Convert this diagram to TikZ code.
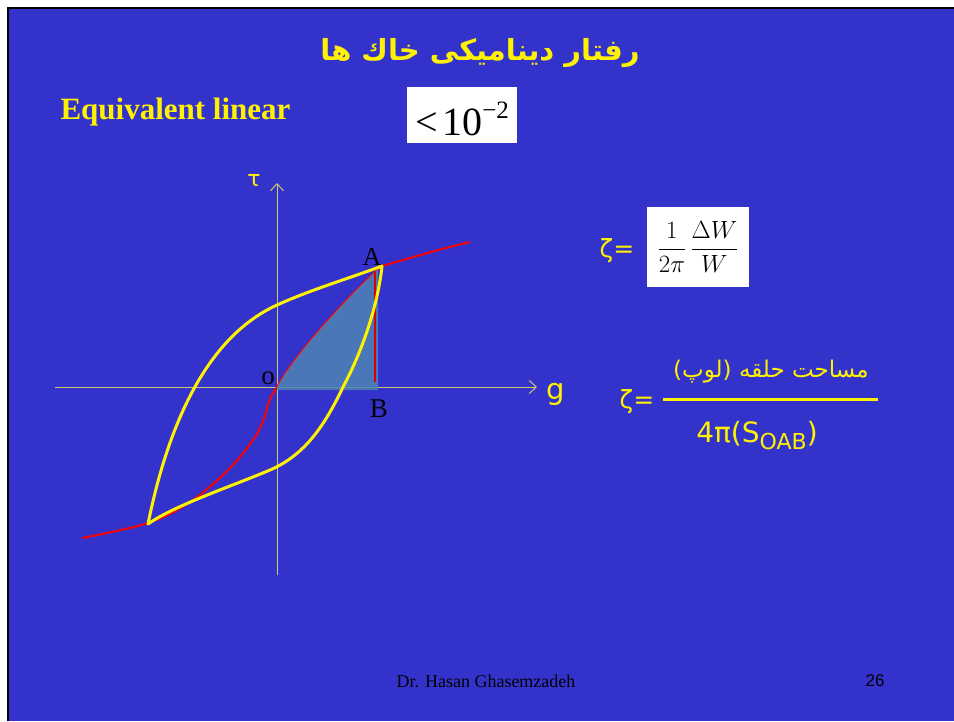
\documentclass[tikz,border=0pt]{standalone}
\usepackage{fontspec}
\usepackage{amsmath}
\usetikzlibrary{arrows.meta}
\setmainfont{Liberation Serif}
\newfontfamily\arabicfont[Script=Arabic]{DejaVu Sans}
\newfontfamily\roundfont{DejaVu Sans}
\newfontfamily\arialfont{Liberation Sans}
\TeXXeTstate=1

\definecolor{slideblue}{RGB}{51,51,204}
\definecolor{axiskhaki}{RGB}{205,200,110}
\definecolor{areablue}{RGB}{78,132,180}

\tikzset{
  yel/.style={text=yellow, inner sep=0pt},
  blk/.style={text=black, inner sep=0pt},
  loopline/.style={yellow, line width=3pt, line cap=round, line join=round},
  backbone/.style={red, line width=2pt},
  axisline/.style={axiskhaki, line width=1pt, -{Straight Barb[length=7pt,width=13pt]}},
}

\begin{document}
\begin{tikzpicture}[x=1pt, y=-1pt]
\useasboundingbox (0,0) rectangle (954,721);

% ── Slide ──
\fill[white] (0,0) rectangle (954,721);
\fill[slideblue] (8,8) rectangle (954,721);
\draw[black, line width=2.6pt] (8,721) -- (8,8) -- (954,8);

% ── Title ──
\node[yel, font=\fontsize{29}{34}\selectfont\arabicfont\bfseries] (title) at (480, 53) {\beginR رفتار دینامیکی خاك ها\endR};
\node[yel, font=\fontsize{31}{36}\selectfont\bfseries] (method) at (175.5, 112) {Equivalent linear};

% limit box
\fill[white] (407,87) rectangle (517,143);
\node[blk, font=\fontsize{40}{44}\selectfont] (limit) at (462, 119) {<\kern0.12em 10\raisebox{0.42em}{\fontsize{25}{28}\selectfont −2}};

% ── Axes ──
\coordinate (xstart) at (55, 387);
\coordinate (xend) at (537, 387);
\coordinate (ystart) at (277, 575);
\coordinate (yend) at (277, 183);
\draw[axisline] (xstart) -- (xend);
\draw[axisline] (ystart) -- (yend);
\node[yel, font=\fontsize{22}{24}\selectfont\roundfont] (tau) at (254, 180) {τ};
\node[yel, font=\fontsize{29}{30}\selectfont\roundfont] (gam) at (556, 394) {g};

% ── Backbone curve (red) ──
\coordinate (O) at (277, 387);
\coordinate (A) at (382, 266);
\coordinate (B) at (378, 387);
\coordinate (C) at (148, 524);
\draw[backbone] plot[smooth, tension=0.6] coordinates {(82,538) (148,523) (190,502) (228,470) (253,440) (263,421) (270,399) (O)};
\draw[backbone] (O) .. controls (292,360) and (330,315) .. (375,272) -- (A) .. controls (410,258) and (440,249) .. (470,242);

% shaded area OAB
\fill[areablue, opacity=0.85] (O) .. controls (292,360) and (330,315) .. (375,272) -- (A) -- (378,270) -- (378,390) -- (277,390) -- cycle;
\draw[red!85!black, line width=1.5pt] (375,272) -- (375,382);

% ── Hysteresis loop (yellow) ──
\draw[loopline] (C) .. controls (165,440) and (200,340) .. (277,305) .. controls (310,290) and (350,278) .. (A);
\draw[loopline] (A) .. controls (378,305) and (362,352) .. (343,387) .. controls (325,425) and (305,455) .. (270,470) .. controls (235,485) and (175,505) .. (C);

% point labels
\node[blk, font=\fontsize{26}{28}\selectfont] (labA) at (372, 257) {A};
\node[blk, font=\fontsize{27}{28}\selectfont] (labB) at (379, 409) {B};
\node[blk, font=\fontsize{27}{28}\selectfont] (labO) at (268, 378) {o};

% ── Damping ratio, energy form ──
\node[yel, font=\fontsize{25}{26}\selectfont\roundfont] (zeta1) at (617, 251) {ζ=};
\fill[white] (647,207) rectangle (749,287);
\node[blk, font=\fontsize{27}{30}\selectfont] (ratio) at (698, 247) {$\dfrac{1}{2\pi}\,\dfrac{\Delta W}{W}$};

% ── Damping ratio, area form ──
\node[yel, font=\fontsize{25}{26}\selectfont\roundfont] (zeta2) at (637, 402) {ζ=};
\coordinate (barL) at (663, 399);
\coordinate (barR) at (878, 399);
\draw[yellow, line width=3pt] (barL) -- (barR);
\node[yel, font=\fontsize{23}{26}\selectfont\arabicfont] (num) at (771, 372) {\beginR مساحت حلقه (لوپ)\endR};
\node[yel, font=\fontsize{28}{30}\selectfont\roundfont] (den) at (757, 436) {4π(S\raisebox{-0.25em}{\fontsize{22}{24}\selectfont OAB})};

% ── Footer ──
\node[blk, font=\fontsize{18}{20}\selectfont] (author) at (486, 681) {Dr. Hasan Ghasemzadeh};
\node[blk, font=\fontsize{17}{19}\selectfont\arialfont] (page) at (875, 681) {26};

\end{tikzpicture}
\end{document}
